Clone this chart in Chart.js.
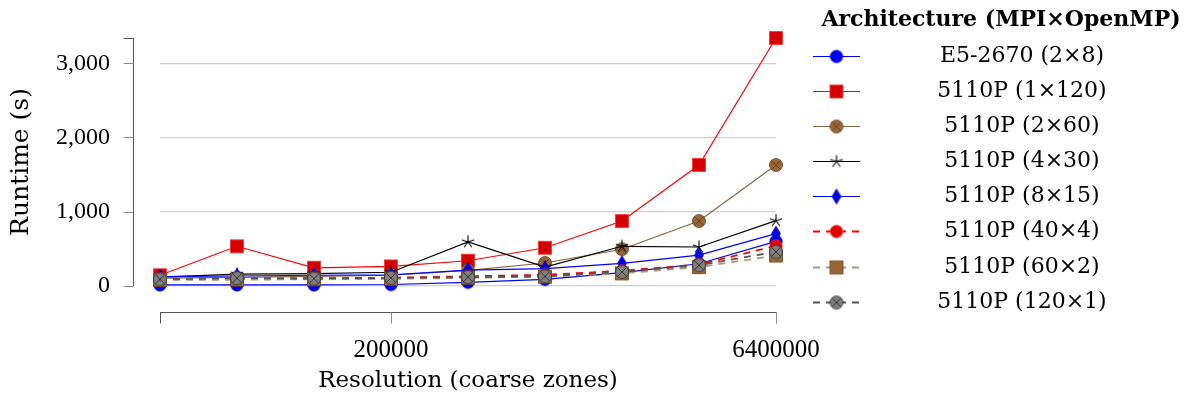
<!DOCTYPE html>
<html>
<head>
<meta charset="utf-8">
<script src="https://cdn.jsdelivr.net/npm/chart.js@4.4.1/dist/chart.umd.min.js"></script>
<style>
  html, body { margin: 0; padding: 0; background: #fff; }
</style>
</head>
<body>
<canvas id="runtimeChart" width="1190" height="400"></canvas>
<script>
// --- Data ---
const resolutions = [25000, 50000, 100000, 200000, 400000, 800000, 1600000, 3200000, 6400000];
const xTicks = [200000, 6400000];
const yTicks = [0, 1000, 2000, 3000];

const runE5_2x8     = [15, 15, 15, 20, 50, 90, 180, 300, 600];
const run5110_1x120 = [145, 535, 245, 265, 340, 515, 875, 1630, 3340];
const run5110_2x60  = [105, 115, 130, 145, 210, 310, 495, 875, 1630];
const run5110_4x30  = [120, 160, 168, 185, 595, 255, 535, 525, 880];
const run5110_8x15  = [125, 135, 145, 150, 215, 235, 305, 415, 705];
const run5110_40x4  = [95, 100, 105, 110, 130, 150, 205, 290, 540];
const run5110_60x2  = [80, 85, 90, 95, 110, 125, 170, 255, 410];
const run5110_120x1 = [90, 105, 100, 110, 120, 130, 190, 280, 460];

const legendTitle = 'Architecture (MPI\u00d7OpenMP)';
const xTitle = 'Resolution (coarse zones)';
const yTitle = 'Runtime (s)';

// --- Marker glyphs (pgfplots-like) ---
function makeMarker(shape, fill, stroke) {
  const size = 18, m = size / 2;
  const c = document.createElement('canvas');
  c.width = c.height = size;
  const g = c.getContext('2d');
  g.fillStyle = fill;
  g.strokeStyle = stroke;
  g.lineWidth = 0.8;
  if (shape === 'circle') {
    g.beginPath(); g.arc(m, m, 6.2, 0, Math.PI * 2); g.fill(); g.stroke();
  } else if (shape === 'square') {
    g.fillRect(m - 6.5, m - 6.5, 13, 13);
    g.strokeRect(m - 6.5, m - 6.5, 13, 13);
  } else if (shape === 'otimes') {
    g.beginPath(); g.arc(m, m, 6.5, 0, Math.PI * 2); g.fill(); g.stroke();
    const d = 6.5 * 0.7;
    g.lineWidth = 1;
    g.beginPath();
    g.moveTo(m - d, m - d); g.lineTo(m + d, m + d);
    g.moveTo(m + d, m - d); g.lineTo(m - d, m + d);
    g.stroke();
  } else if (shape === 'diamond') {
    g.beginPath();
    g.moveTo(m, m - 7.5); g.lineTo(m + 4.5, m); g.lineTo(m, m + 7.5); g.lineTo(m - 4.5, m);
    g.closePath(); g.fill(); g.stroke();
  } else if (shape === 'star') {
    g.lineWidth = 1.1;
    g.beginPath();
    for (let k = 0; k < 5; k++) {
      const a = -Math.PI / 2 + k * 2 * Math.PI / 5;
      g.moveTo(m, m);
      g.lineTo(m + 6.5 * Math.cos(a), m + 6.5 * Math.sin(a));
    }
    g.stroke();
  }
  return c;
}

const series = [
  { label: 'E5-2670 (2\u00d78)',   data: runE5_2x8,     color: '#0000ff', dash: [], marker: makeMarker('circle', '#0000ee', '#0000cc') },
  { label: '5110P (1\u00d7120)',   data: run5110_1x120, color: '#ff0000', dash: [], marker: makeMarker('square', '#d40000', '#ff3030') },
  { label: '5110P (2\u00d760)',    data: run5110_2x60,  color: '#8a6440', dash: [], marker: makeMarker('otimes', '#99663a', '#6b4520') },
  { label: '5110P (4\u00d730)',    data: run5110_4x30,  color: '#000000', dash: [], marker: makeMarker('star', '#000', '#000') },
  { label: '5110P (8\u00d715)',    data: run5110_8x15,  color: '#0000ff', dash: [], marker: makeMarker('diamond', '#0000ee', '#0000cc') },
  { label: '5110P (40\u00d74)',    data: run5110_40x4,  color: '#ff0000', dash: [7, 6], marker: makeMarker('circle', '#e00000', '#ff2020') },
  { label: '5110P (60\u00d72)',    data: run5110_60x2,  color: '#b09878', dash: [7, 6], marker: makeMarker('square', '#996633', '#6b4520') },
  { label: '5110P (120\u00d71)',   data: run5110_120x1, color: '#555555', dash: [7, 6], marker: makeMarker('otimes', '#808080', '#333333') }
];

const yMax = Math.max(...series.flatMap(s => s.data));

// axis lines drawn apart from the plot area, spanning only the data range
const rangeFrame = {
  id: 'rangeFrame',
  beforeDatasetsDraw(chart) {
    const { ctx, chartArea, scales: { x, y } } = chart;
    const axisX = Math.round(chartArea.left - 27) + 0.5;
    const axisY = Math.round(chartArea.bottom + 26) + 0.5;
    const y0 = y.getPixelForValue(0), y1 = y.getPixelForValue(yMax);
    const x0 = x.getPixelForValue(resolutions[0]), x1 = x.getPixelForValue(resolutions[resolutions.length - 1]);
    ctx.save();
    ctx.lineWidth = 1;
    ctx.strokeStyle = '#555';
    ctx.beginPath();
    ctx.moveTo(axisX, y0); ctx.lineTo(axisX, y1);
    ctx.moveTo(axisX - 10, Math.round(y1) + 0.5); ctx.lineTo(axisX, Math.round(y1) + 0.5);
    ctx.moveTo(x0, axisY); ctx.lineTo(x1, axisY);
    ctx.moveTo(Math.round(x0) + 0.5, axisY); ctx.lineTo(Math.round(x0) + 0.5, axisY + 11);
    ctx.moveTo(Math.round(x1) + 0.5, axisY); ctx.lineTo(Math.round(x1) + 0.5, axisY + 11);
    ctx.stroke();
    ctx.strokeStyle = '#8a8a8a';
    ctx.beginPath();
    yTicks.forEach(v => {
      const py = Math.round(y.getPixelForValue(v)) + 0.5;
      ctx.moveTo(axisX - 10, py); ctx.lineTo(axisX, py);
    });
    xTicks.forEach(v => {
      const px = Math.round(x.getPixelForValue(v)) + 0.5;
      ctx.moveTo(px, axisY); ctx.lineTo(px, axisY + 11);
    });
    ctx.stroke();
    ctx.restore();
  }
};

// legend column: line sample with marker, centred label
const sideLegend = {
  id: 'sideLegend',
  afterDraw(chart) {
    const ctx = chart.ctx;
    ctx.save();
    ctx.fillStyle = '#000';
    ctx.textAlign = 'center';
    ctx.textBaseline = 'middle';
    ctx.font = 'bold 22px "DejaVu Serif"';
    ctx.fillText(legendTitle, 1001, 20);
    ctx.font = '22px "DejaVu Serif"';
    chart.data.datasets.forEach((ds, i) => {
      const cy = Math.round(55.7 + i * 35.15) + 0.5;
      ctx.strokeStyle = ds.borderColor;
      ctx.lineWidth = ds.borderWidth;
      ctx.setLineDash(ds.borderDash);
      ctx.beginPath(); ctx.moveTo(813, cy); ctx.lineTo(860, cy); ctx.stroke();
      ctx.setLineDash([]);
      const mk = ds.pointStyle;
      ctx.drawImage(mk, 836.5 - mk.width / 2, cy - mk.height / 2);
      ctx.fillText(ds.label, 1022, cy);
    });
    ctx.restore();
  }
};

new Chart(document.getElementById('runtimeChart').getContext('2d'), {
  type: 'line',
  data: {
    labels: resolutions,
    datasets: series.map((s, i) => ({
      label: s.label,
      data: resolutions.map((r, k) => ({ x: r, y: s.data[k] })),
      borderColor: s.color,
      borderWidth: s.dash.length ? 1.8 : 1.2,
      borderDash: s.dash,
      pointStyle: s.marker,
      pointRadius: 6,
      pointHoverRadius: 6,
      fill: false,
      tension: 0,
      clip: false,
      order: series.length - i
    }))
  },
  options: {
    responsive: false,
    animation: false,
    layout: { padding: { top: 38, right: 414, bottom: 0, left: 0 } },
    plugins: { legend: { display: false }, tooltip: { enabled: false } },
    scales: {
      x: {
        type: 'logarithmic',
        min: resolutions[0],
        max: resolutions[resolutions.length - 1],
        grid: { display: false },
        border: { display: false },
        afterBuildTicks: s => { s.ticks = xTicks.map(v => ({ value: v })); },
        afterFit: s => { s.height = 114; s.paddingLeft = 0; s.paddingRight = 0; },
        ticks: {
          padding: 41, color: '#000', maxRotation: 0, autoSkip: false,
          font: { family: 'Liberation Serif', size: 25 },
          callback: v => String(v)
        },
        title: {
          display: true, text: xTitle, color: '#000',
          font: { family: 'DejaVu Serif', size: 23 },
          padding: { top: 0, bottom: 5 }
        }
      },
      y: {
        min: 0,
        max: yMax,
        grid: { color: '#d0d0d0', lineWidth: 1.3, drawTicks: false },
        border: { display: false },
        afterBuildTicks: s => { s.ticks = yTicks.map(v => ({ value: v })); },
        afterFit: s => { s.width = 160; s.paddingTop = 0; s.paddingBottom = 0; },
        ticks: {
          padding: 50, color: '#000',
          font: { family: 'Liberation Serif', size: 24 },
          callback: v => v.toLocaleString('en-US')
        },
        title: {
          display: true, text: yTitle, color: '#000',
          font: { family: 'DejaVu Serif', size: 25 },
          padding: { top: 6, bottom: 0 }
        }
      }
    }
  },
  plugins: [rangeFrame, sideLegend]
});
</script>
</body>
</html>
